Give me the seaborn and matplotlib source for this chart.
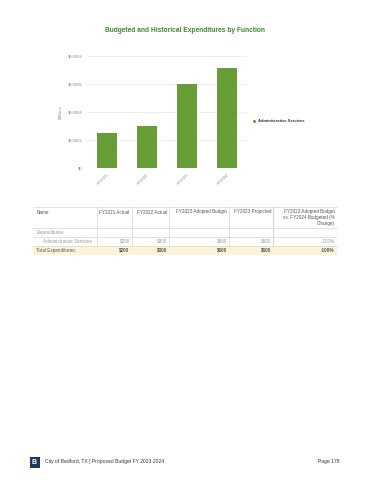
import matplotlib
matplotlib.use("Agg")
import matplotlib.pyplot as plt
import seaborn as sns
import pandas as pd
from matplotlib.patches import Rectangle

# ---- data ----
fiscal_years = ["FY2021", "FY2022", "FY2023", "FY2024"]
admin_services_millions = [0.00025, 0.00030, 0.00060, 0.000715]
y_ticks = [0, 0.0002, 0.0004, 0.0006, 0.0008]
y_tick_labels = ["$0", "$0.0002", "$0.0004", "$0.0006", "$0.0008"]
series_name = "Administrative Services"

table_headers = ["Name", "FY2021 Actual", "FY2022 Actual", "FY2023 Adopted Budget",
                 "FY2023 Projected", "FY2023 Adopted Budget\nvs. FY2024 Budgeted (%\nChange)"]
admin_row = ["Administrative Services", "$200", "$300", "$600", "$600", "-100%"]
total_row = ["Total Expenditures:", "$200", "$300", "$600", "$600", "-100%"]

sns.set_theme(style="white")
plt.rcParams["font.family"] = ["Liberation Sans", "DejaVu Sans"]

GREEN = "#679d37"
fig = plt.figure(figsize=(3.7, 4.8), dpi=100)

# ---- chart ----
ax = fig.add_axes([87/370, 1 - 168.3/480, 160/370, 112.6/480])
df = pd.DataFrame({"year": fiscal_years, "value": admin_services_millions})
sns.barplot(data=df, x="year", y="value", color=GREEN, width=0.48,
            saturation=1, edgecolor="none", linewidth=0, ax=ax, zorder=3)
ax.set_ylim(0, 0.0008)
ax.set_yticks(y_ticks)
ax.set_yticklabels(y_tick_labels, fontsize=3.0, color="#888888")
ax.set_xticks(range(len(fiscal_years)))
ax.set_xticklabels(fiscal_years, fontsize=3.0, color="#888888",
                   rotation=45, ha="right", rotation_mode="anchor")
ax.tick_params(axis="both", length=0, pad=3)
ax.grid(axis="y", color="#e8e8e8", linewidth=0.5, zorder=0)
for s in ax.spines.values():
    s.set_visible(False)
ax.set_xlabel("")
ax.set_ylabel("Millions", fontsize=3.0, color="#888888", labelpad=4)
ax.set_xlim(-0.5, 3.5)

fig.text(185/370, 1 - 30/480, "Budgeted and Historical Expenditures by Function",
         ha="center", va="center", fontsize=4.8, fontweight="bold", color="#3d8b2a")

# legend
ov = fig.add_axes([0, 0, 1, 1], zorder=5)
ov.set_xlim(0, 370)
ov.set_ylim(480, 0)
ov.axis("off")
ov.scatter([254], [120.5], s=5, color=GREEN, linewidths=0)
ov.text(258, 120.5, series_name, fontsize=3.0, color="#333333", va="center",
        fontweight="bold")

# ---- table ----
left, right = 33.3, 336.7
col_edges = [33.3, 96.7, 131.7, 169, 229, 273.3, 336.7]
row_edges = [207.3, 228.3, 236.7, 245.7, 255]
line_c = "#d6d6d6"
tfs = 3.35

# total row background
ov.add_patch(Rectangle((left, row_edges[3]), right - left, row_edges[4] - row_edges[3],
                       facecolor="#fdf3d6", edgecolor="none"))
for yv in row_edges[:4]:
    ov.plot([left, right], [yv, yv], color=line_c, linewidth=0.5)
for i, xv in enumerate(col_edges[1:-1], start=1):
    lw = 0.8 if i == 5 else 0.5
    ov.plot([xv, xv], [row_edges[0], row_edges[3]], color=line_c, linewidth=lw)

# header
for i, h in enumerate(table_headers):
    if i == 0:
        ov.text(col_edges[0] + 3, row_edges[0] + 2.2, h, fontsize=tfs, color="#555555",
                ha="left", va="top")
    else:
        ov.text(col_edges[i + 1] - 2, row_edges[0] + 2.2, h, fontsize=tfs, color="#555555",
                ha="right", va="top", multialignment="right", linespacing=1.25)

ov.text(col_edges[0] + 3, (row_edges[1] + row_edges[2]) / 2, "Expenditures",
        fontsize=tfs, color="#999999", ha="left", va="center")
ymid = (row_edges[2] + row_edges[3]) / 2
for i, v in enumerate(admin_row):
    if i == 0:
        ov.text(col_edges[0] + 10, ymid, v, fontsize=tfs, color="#999999", ha="left", va="center")
    else:
        ov.text(col_edges[i + 1] - 2, ymid, v, fontsize=tfs, color="#999999", ha="right", va="center")
ymid = (row_edges[3] + row_edges[4]) / 2
for i, v in enumerate(total_row):
    if i == 0:
        ov.text(col_edges[0] + 3, ymid, v, fontsize=tfs, color="#555555", ha="left", va="center")
    else:
        ov.text(col_edges[i + 1] - 2, ymid, v, fontsize=tfs, color="#555555", ha="right",
                va="center", fontweight="bold")

# ---- footer ----
ov.add_patch(Rectangle((29.5, 456.5), 10, 11, facecolor="#1c3a5e", edgecolor="none"))
ov.text(34.5, 462, "B", fontsize=5, color="white", ha="center", va="center", fontweight="bold")
ov.text(45, 462, "City of Bedford, TX | Proposed Budget FY 2023-2024", fontsize=3.6,
        color="#333333", ha="left", va="center")
ov.text(340, 462, "Page 178", fontsize=3.6, color="#333333", ha="right", va="center")

fig.savefig("out.png", dpi=100)
